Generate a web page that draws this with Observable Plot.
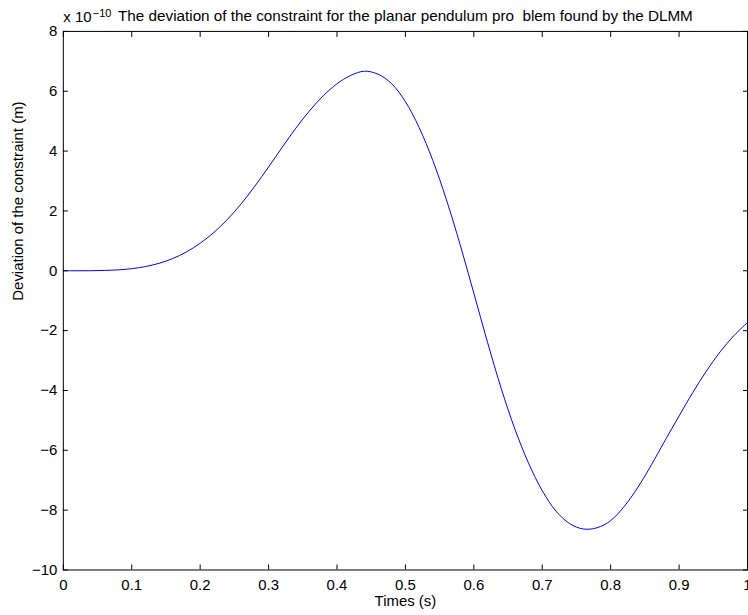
<!DOCTYPE html>
<html><head><meta charset="utf-8">
<script src="https://cdn.jsdelivr.net/npm/d3@7"></script>
<script src="https://cdn.jsdelivr.net/npm/@observablehq/plot@0.6"></script>
<style>
html,body{margin:0;padding:0;background:#fff;overflow:hidden;}
svg text{white-space:pre;}
</style></head><body><div id="chart"></div>
<script>
// Time (s)
const times = [0, 0.02, 0.04, 0.06, 0.08, 0.1, 0.12, 0.14, 0.16, 0.18, 0.2, 0.22, 0.24, 0.26, 0.28, 0.3, 0.32, 0.34, 0.36, 0.38, 0.4, 0.42, 0.44, 0.46, 0.48, 0.5, 0.52, 0.54, 0.56, 0.58, 0.6, 0.62, 0.64, 0.66, 0.68, 0.7, 0.72, 0.74, 0.76, 0.78, 0.8, 0.82, 0.84, 0.86, 0.88, 0.9, 0.92, 0.94, 0.96, 0.98, 1.0];
// Deviation of the constraint (x 1e-10 m)
const deviation = [0, 0, 0.002, 0.01, 0.03, 0.07, 0.14, 0.25, 0.41, 0.63, 0.92, 1.28, 1.72, 2.24, 2.83, 3.47, 4.13, 4.77, 5.35, 5.85, 6.25, 6.53, 6.67, 6.57, 6.25, 5.65, 4.79, 3.69, 2.37, 0.87, -0.75, -2.39, -3.93, -5.29, -6.43, -7.35, -8.03, -8.45, -8.63, -8.59, -8.35, -7.87, -7.23, -6.47, -5.65, -4.85, -4.07, -3.35, -2.71, -2.17, -1.73];

const xTicks = [0, 0.1, 0.2, 0.3, 0.4, 0.5, 0.6, 0.7, 0.8, 0.9, 1];
const xTickLabels = ["0", "0.1", "0.2", "0.3", "0.4", "0.5", "0.6", "0.7", "0.8", "0.9", "1"];
const yTicks = [-10, -8, -6, -4, -2, 0, 2, 4, 6, 8];
const yTickLabels = ["\u221210", "\u22128", "\u22126", "\u22124", "\u22122", "0", "2", "4", "6", "8"];

const titleText = "The deviation of the constraint for the planar pendulum pro  blem found by the DLMM";
const xLabel = "Times (s)";
const yLabel = "Deviation of the constraint (m)";
const exponentBase = "x 10";
const exponentPower = "\u221210";

const data = times.map((t, i) => ({t, v: deviation[i]}));
const font = "'Liberation Sans', Arial, Helvetica, sans-serif";
const fmtX = d => xTickLabels[xTicks.indexOf(d)];
const fmtY = d => yTickLabels[yTicks.indexOf(d)];
const blank = () => "";

const chart = Plot.plot({
  width: 750, height: 615,
  marginLeft: 63, marginRight: 1, marginTop: 31, marginBottom: 44,
  style: {fontFamily: font, fontSize: "15px", background: "#fff", color: "#000", overflow: "visible"},
  x: {domain: [0, 1]},
  y: {domain: [-10, 8]},
  marks: [
    Plot.line(data, {x: "t", y: "v", stroke: "#0000ff", strokeWidth: 1, curve: "catmull-rom"}),
    Plot.frame({stroke: "#000"}),
    Plot.axisX({ticks: xTicks, anchor: "bottom", tickSize: -5, tickFormat: blank, label: null}),
    Plot.axisX({ticks: xTicks, anchor: "top", tickSize: -5, tickFormat: blank, label: null}),
    Plot.axisY({ticks: yTicks, anchor: "left", tickSize: -5, tickFormat: blank, label: null}),
    Plot.axisY({ticks: yTicks, anchor: "right", tickSize: -5, tickFormat: blank, label: null}),
    Plot.axisX({ticks: xTicks, anchor: "bottom", tickSize: 0, tickPadding: 9, tickFormat: fmtX, label: null}),
    Plot.axisY({ticks: yTicks, anchor: "left", tickSize: 0, tickPadding: 6, tickFormat: fmtY, label: null}),
    Plot.text([titleText], {text: d => d, frameAnchor: "top", dy: -10, lineAnchor: "bottom", fontSize: 15.3}),
    Plot.text([exponentBase], {text: d => d, frameAnchor: "top-left", textAnchor: "start", dy: -9, lineAnchor: "bottom", fontSize: 15}),
    Plot.text([exponentPower], {text: d => d, frameAnchor: "top-left", textAnchor: "start", dx: 29.5, dy: -14, lineAnchor: "bottom", fontSize: 11}),
    Plot.text([xLabel], {text: d => d, frameAnchor: "bottom", dy: 36, lineAnchor: "bottom", fontSize: 15}),
    Plot.text([yLabel], {text: d => d, frameAnchor: "left", dx: -40, rotate: -90, lineAnchor: "bottom", fontSize: 15})
  ]
});
document.getElementById("chart").appendChild(chart);
</script></body></html>
